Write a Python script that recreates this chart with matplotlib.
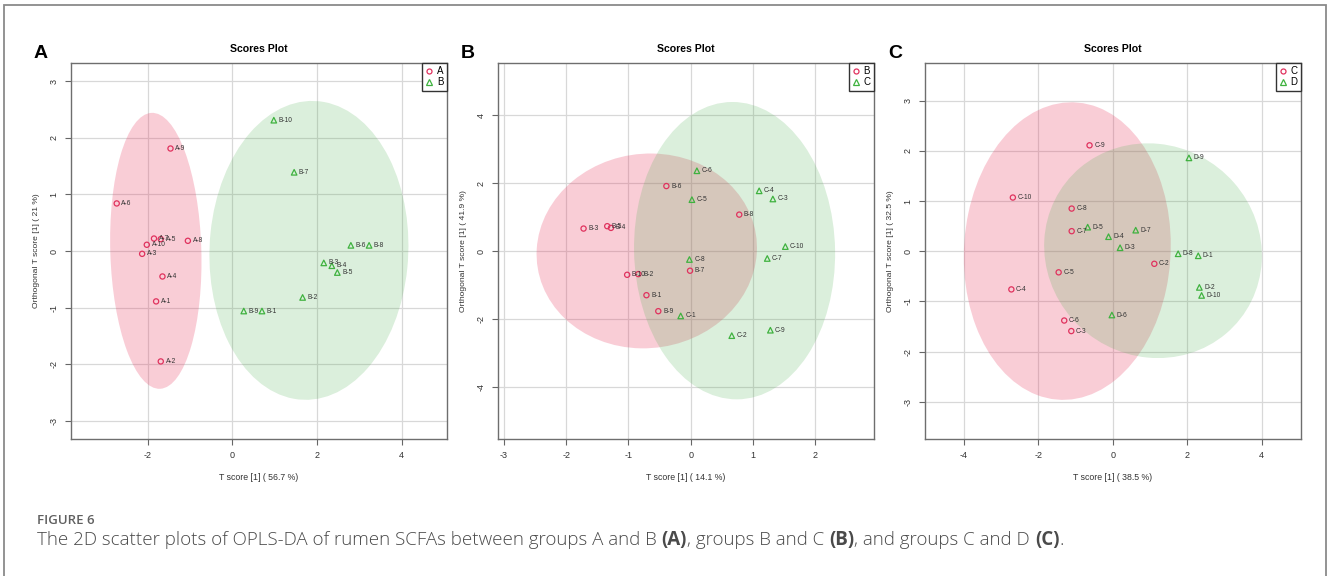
import numpy as np
import matplotlib
matplotlib.use("Agg")
import matplotlib.pyplot as plt
from matplotlib.patches import Ellipse, Rectangle
from matplotlib.lines import Line2D

# ---- scores (T score, orthogonal T score) per panel ----
# Panel A: groups A and B
a_names = ["A-1", "A-2", "A-3", "A-4", "A-5", "A-6", "A-7", "A-8", "A-9", "A-10"]
a_t = [-1.80, -1.69, -2.13, -1.65, -1.69, -2.73, -1.85, -1.05, -1.46, -2.02]
a_o = [-0.89, -1.95, -0.05, -0.45, 0.21, 0.84, 0.22, 0.18, 1.81, 0.11]
b_names = ["B-1", "B-2", "B-3", "B-4", "B-5", "B-6", "B-7", "B-8", "B-9", "B-10"]
b_t = [0.70, 1.66, 2.16, 2.35, 2.48, 2.80, 1.46, 3.23, 0.27, 0.98]
b_o = [-1.06, -0.82, -0.21, -0.26, -0.38, 0.10, 1.39, 0.10, -1.06, 2.31]

# Panel B: groups B and C
b2_names = ["B-1", "B-2", "B-3", "B-4", "B-5", "B-6", "B-7", "B-8", "B-9", "B-10"]
b2_t = [-0.71, -0.84, -1.72, -1.28, -1.34, -0.39, -0.01, 0.78, -0.52, -1.02]
b2_o = [-1.29, -0.67, 0.67, 0.69, 0.74, 1.92, -0.57, 1.08, -1.76, -0.69]
c_names = ["C-1", "C-2", "C-3", "C-4", "C-5", "C-6", "C-7", "C-8", "C-9", "C-10"]
c_t = [-0.16, 0.66, 1.32, 1.10, 0.02, 0.10, 1.23, -0.02, 1.28, 1.52]
c_o = [-1.90, -2.48, 1.54, 1.78, 1.52, 2.37, -0.21, -0.24, -2.32, 0.14]

# Panel C: groups C and D
c2_names = ["C-2", "C-3", "C-4", "C-5", "C-6", "C-7", "C-8", "C-9", "C-10"]
c2_t = [1.12, -1.11, -2.72, -1.45, -1.30, -1.10, -1.10, -0.62, -2.68]
c2_o = [-0.25, -1.59, -0.76, -0.42, -1.38, 0.40, 0.85, 2.11, 1.07]
d_names = ["D-1", "D-2", "D-3", "D-4", "D-5", "D-6", "D-7", "D-8", "D-9", "D-10"]
d_t = [2.30, 2.33, 0.20, -0.11, -0.67, -0.02, 0.62, 1.76, 2.05, 2.39]
d_o = [-0.09, -0.72, 0.07, 0.29, 0.48, -1.27, 0.42, -0.05, 1.86, -0.88]

panels = [
    dict(letter="A", g1=("A", a_names, a_t, a_o), g2=("B", b_names, b_t, b_o),
         xlabel="T score [1] ( 56.7 %)", ylabel="Orthogonal T score [1] ( 21 %)",
         xticks=[-2, 0, 2, 4], yticks=[-3, -2, -1, 0, 1, 2, 3],
         xlim=(-3.81, 5.07), ylim=(-3.32, 3.32)),
    dict(letter="B", g1=("B", b2_names, b2_t, b2_o), g2=("C", c_names, c_t, c_o),
         xlabel="T score [1] ( 14.1 %)", ylabel="Orthogonal T score [1] ( 41.9 %)",
         xticks=[-3, -2, -1, 0, 1, 2], yticks=[-4, -2, 0, 2, 4],
         xlim=(-3.094, 2.944), ylim=(-5.52, 5.54)),
    dict(letter="C", g1=("C", c2_names, c2_t, c2_o), g2=("D", d_names, d_t, d_o),
         xlabel="T score [1] ( 38.5 %)", ylabel="Orthogonal T score [1] ( 32.5 %)",
         xticks=[-4, -2, 0, 2, 4], yticks=[-3, -2, -1, 0, 1, 2, 3],
         xlim=(-5.04, 5.06), ylim=(-3.74, 3.75)),
]

RED = "#E0325E"
GREEN = "#3FB23F"
FILL_RED = "#E8385F"
FILL_GREEN = "#4CAF50"
PLOT_FONT = ["Liberation Sans", "DejaVu Sans"]

W, H = 1328, 576
fig = plt.figure(figsize=(W / 100, H / 100), dpi=100)
fig.patch.set_facecolor("white")

# outer frame of the figure block
fig.add_artist(Rectangle((4 / W, -0.05), 1322 / W, 1 - 5 / H + 0.05,
                         transform=fig.transFigure, fill=False,
                         edgecolor="#8a8a8a", linewidth=1.3))


def conf_ellipse(ax, xs, ys, color, alpha):
    pts = np.column_stack([xs, ys])
    mu = pts.mean(axis=0)
    cov = np.cov(pts, rowvar=False)
    vals, vecs = np.linalg.eigh(cov)
    t = np.sqrt(-2.0 * np.log(0.05))  # 95% region, 2 d.o.f.
    ang = np.degrees(np.arctan2(vecs[1, 1], vecs[0, 1]))
    e = Ellipse(mu, 2 * t * np.sqrt(vals[1]), 2 * t * np.sqrt(vals[0]), angle=ang,
                facecolor=color, alpha=alpha, edgecolor="none", zorder=1)
    ax.add_patch(e)


lefts = [71, 498, 925]
ax_w = ax_h = 376
ax_top = 63

for left, p in zip(lefts, panels):
    ax = fig.add_axes([left / W, 1 - (ax_top + ax_h) / H, ax_w / W, ax_h / H])
    ax.set_xlim(*p["xlim"])
    ax.set_ylim(*p["ylim"])
    ax.set_xticks(p["xticks"])
    ax.set_yticks(p["yticks"])
    ax.set_xticklabels([str(v) for v in p["xticks"]], family=PLOT_FONT, fontsize=6.5, color="#333333")
    ax.set_yticklabels([str(v) for v in p["yticks"]], family=PLOT_FONT, fontsize=6.5, color="#333333",
                       rotation=90, va="center")
    ax.tick_params(length=4, width=0.8, color="#666666", pad=5)
    ax.grid(True, color="#d8d8d8", linewidth=0.9)
    ax.set_axisbelow(True)
    for s in ax.spines.values():
        s.set_color("#6e6e6e")
        s.set_linewidth(1.0)

    n1, names1, x1, y1 = p["g1"]
    n2, names2, x2, y2 = p["g2"]
    conf_ellipse(ax, x1, y1, FILL_RED, 0.25)
    conf_ellipse(ax, x2, y2, FILL_GREEN, 0.2)

    ax.scatter(x1, y1, marker="o", s=14, facecolors="none", edgecolors=RED, linewidths=0.9, zorder=3)
    ax.scatter(x2, y2, marker="^", s=16, facecolors="none", edgecolors=GREEN, linewidths=0.9, zorder=3)
    for names, xs, ys in ((names1, x1, y1), (names2, x2, y2)):
        for nm, xv, yv in zip(names, xs, ys):
            ax.annotate(nm, (xv, yv), xytext=(3.4, 0), textcoords="offset points",
                        ha="left", va="center", fontsize=4.8, family=PLOT_FONT,
                        color="#333333", zorder=4)

    handles = [Line2D([], [], marker="o", linestyle="none", markerfacecolor="none",
                      markeredgecolor=RED, markersize=3.6, markeredgewidth=0.9),
               Line2D([], [], marker="^", linestyle="none", markerfacecolor="none",
                      markeredgecolor=GREEN, markersize=3.8, markeredgewidth=0.9)]
    leg = ax.legend(handles, [n1, n2], loc="upper right", borderaxespad=0,
                    prop={"family": PLOT_FONT, "size": 7}, handlelength=0.8,
                    handletextpad=0.4, borderpad=0.35, labelspacing=0.1,
                    fancybox=False, framealpha=1, edgecolor="#333333")
    leg.get_frame().set_linewidth(1.0)

    ax.set_title("Scores Plot", family=PLOT_FONT, fontsize=7.6, fontweight="bold", pad=8)
    ax.set_xlabel(p["xlabel"], family=PLOT_FONT, fontsize=6.3, color="#333333", labelpad=9)
    ax.set_ylabel(p["ylabel"], family=PLOT_FONT, fontsize=6.1, color="#333333", labelpad=7)

    fig.text((left - 30) / W, 1 - 54 / H, p["letter"], family=PLOT_FONT, fontsize=14,
             fontweight="bold", ha="center", va="center")

# caption
CAP_FONT = ["Open Sans", "DejaVu Sans"]
fig.text(37 / W, 1 - 520 / H, "FIGURE 6", family=CAP_FONT, fontsize=9.5, color="#606060",
         fontweight="semibold", ha="left", va="center")

pieces = [("The 2D scatter plots of OPLS-DA of rumen SCFAs between groups A and B ", "light"),
          ("(A)", "bold"), (", groups B and C ", "light"), ("(B)", "bold"),
          (", and groups C and D ", "light"), ("(C)", "bold"), (".", "light")]
renderer = fig.canvas.get_renderer()
x = 37 / W
for txt, wt in pieces:
    t = fig.text(x, 1 - 540 / H, txt, family=CAP_FONT, fontsize=13.5, color="#4a4a4a",
                 fontweight=wt, ha="left", va="center")
    bb = t.get_window_extent(renderer=renderer)
    x = bb.x1 / W

fig.savefig("out.png", dpi=100)
